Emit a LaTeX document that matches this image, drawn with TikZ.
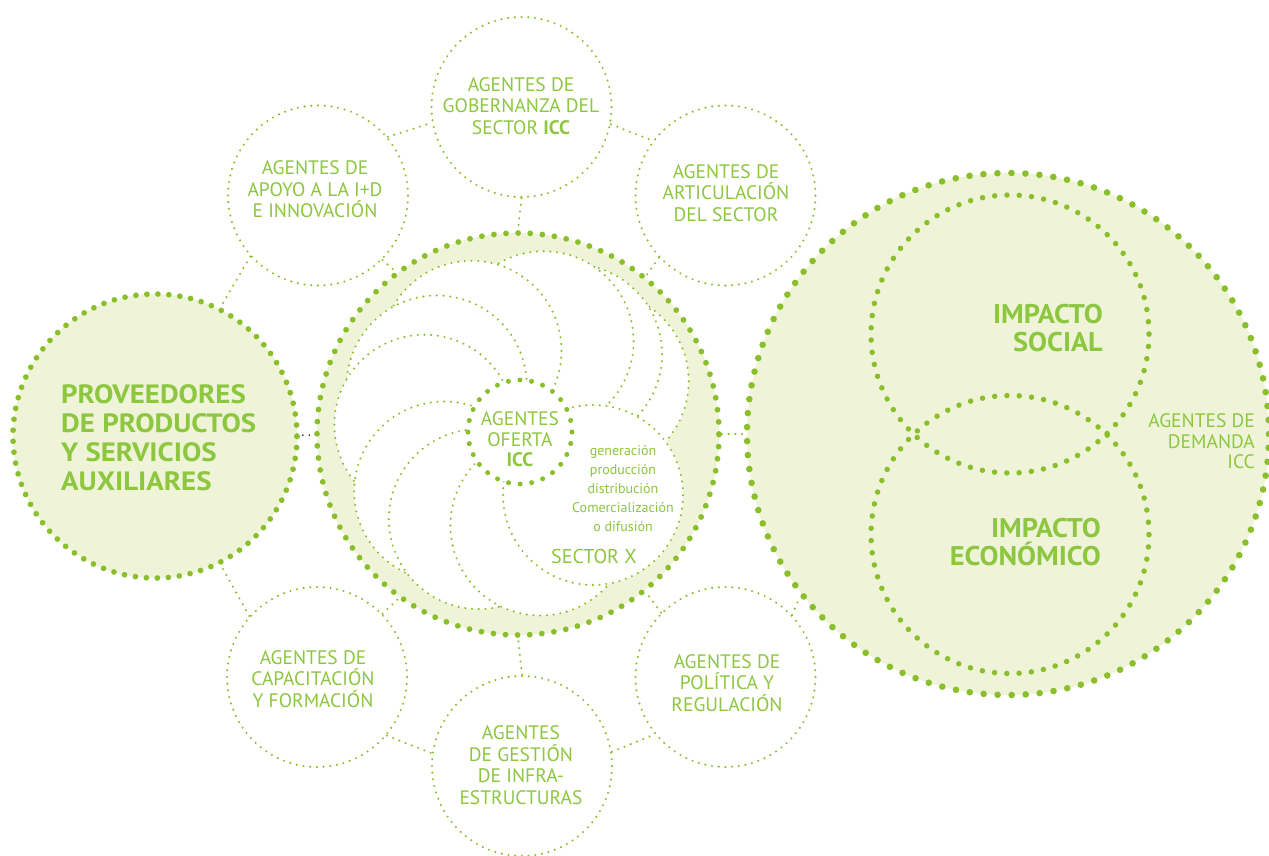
\documentclass[tikz,border=0pt]{standalone}
\usepackage{fontspec}
\setmainfont{PT Sans}
\newfontfamily\wideprov[FakeStretch=1.09]{PT Sans}
\newfontfamily\wideimp[FakeStretch=1.05]{PT Sans}
\usetikzlibrary{calc}
\definecolor{dotg}{HTML}{8ABE2A}
\definecolor{txtg}{HTML}{8DC63F}
\definecolor{lightg}{HTML}{EFF4D9}
\begin{document}
\begin{tikzpicture}[x=1pt,y=-1pt,
  thindots/.style={draw=dotg, line width=2.3pt, line cap=round, dash pattern=on 0pt off #1},
  thindots/.default=6.73pt,
  bigdots/.style 2 args={draw=dotg, line width=#1, line cap=round, dash pattern=on 0pt off #2},
  agent/.style={circle, minimum size=180pt, inner sep=0pt, fill=white, thindots},
  agtext/.style={text=txtg, align=center, font=\fontsize{19.5}{21.5}\selectfont, inner sep=0pt},
  bigtext/.style={text=txtg, font=\wideimp\fontsize{27}{28.5}\selectfont\bfseries, inner sep=0pt},
]
\useasboundingbox (0,0) rectangle (1269,856);
\fill[white] (0,0) rectangle (1269,856);

% main circles
\node[circle, minimum size=284pt, inner sep=0pt, fill=lightg, bigdots={5.7pt}{11.01pt}] (prov) at (155,436) {};
\node[circle, minimum size=402pt, inner sep=0pt, fill=lightg, bigdots={5.8pt}{12.14pt}] (ring) at (518,434) {};
\node[circle, minimum size=522pt, inner sep=0pt, fill=lightg, bigdots={6.6pt}{14.02pt}] (big) at (1008,434) {};

% agent circles
\node[agent] (gob) at (521.5,107) {};
\node[agent] (apoyo) at (318,195.5) {};
\node[agent] (artic) at (725.5,195.5) {};
\node[agent] (capac) at (317,677) {};
\node[agent] (gest) at (522,766) {};
\node[agent] (polit) at (725.5,677) {};

% connectors
\draw[thindots] (apoyo.40) -- (gob.190);
\draw[thindots] (gob.-11) -- (artic.143);
\draw[thindots] (capac.-40) -- (gest.172);
\draw[thindots] (gest.9) -- (polit.219);
\draw[thindots] (gob.-90) -- (ring.90);
\draw[thindots] (gest.90) -- (ring.-90);
\draw[thindots] (apoyo.-45) -- (ring.127);
\draw[thindots] (artic.223) -- (ring.51);
\draw[thindots] (capac.44) -- (ring.234);
\draw[thindots] (polit.135) -- (ring.-51);
\draw[thindots] (apoyo.222) -- (prov.63);
\draw[thindots] (capac.138) -- (prov.-63);
\draw[thindots] (polit.43) -- (big.218);
\draw[thindots] (ring) -- (big);
\draw[black, line width=1.8pt, line cap=round, dash pattern=on 0pt off 6.5pt, shorten <=3pt, shorten >=3pt] (prov) -- (ring);

% pinwheel of sectors
\coordinate (ctr) at (519,433);
\foreach \a in {33,56,75,120,150,175,218,245,283}{
  \filldraw[fill=white, thindots] ($(ctr)+(-\a:95)$) circle[radius=90pt];
}
\node[circle, minimum size=180pt, inner sep=0pt, fill=white, thindots] (secx) at (593,495) {};
\node[circle, minimum size=104pt, inner sep=0pt, fill=white, bigdots={5pt}{11.67pt}] (ofe) at (520,432) {};

% impact circles
\node[circle, minimum size=278pt, inner sep=0pt, bigdots={5.5pt}{12.3pt}] (soc) at (1010,334) {};
\node[circle, minimum size=278pt, inner sep=0pt, bigdots={5.5pt}{12.3pt}] (eco) at (1010,534.5) {};

% texts
\node[agtext] (gobt) at (521,106) {AGENTES DE\\GOBERNANZA DEL\\SECTOR \textbf{ICC}};
\node[agtext] (apoyot) at (315,189.5) {AGENTES DE\\APOYO A LA I+D\\E INNOVACIÓN};
\node[agtext] (artict) at (726,193) {AGENTES DE\\ARTICULACIÓN\\DEL SECTOR};
\node[agtext] (capact) at (313,679) {AGENTES DE\\CAPACITACIÓN\\Y FORMACIÓN};
\node[agtext] (gestt) at (521,765) {AGENTES\\DE GESTIÓN\\DE INFRA-\\ESTRUCTURAS};
\node[agtext] (politt) at (727,683) {AGENTES DE\\POLÍTICA Y\\REGULACIÓN};
\node[agtext, font=\fontsize{19.5}{20.5}\selectfont] (ofet) at (520,439.5) {AGENTES\\OFERTA\\\textbf{ICC}};
\node[agtext, font=\fontsize{14}{19}\selectfont] (secxt) at (623,489) {generación\\producción\\distribución\\Comercialización\\o difusión};
\node[agtext, font=\fontsize{20}{22}\selectfont] (secxl) at (594,556) {SECTOR X};
\node[bigtext, align=left, anchor=west, font=\wideprov\fontsize{26.5}{29}\selectfont\bfseries] (provt) at (61,437.5) {PROVEEDORES\\DE PRODUCTOS\\Y SERVICIOS\\AUXILIARES};
\node[bigtext, align=right, anchor=east] (soct) at (1103,328) {IMPACTO\\SOCIAL};
\node[bigtext, align=right, anchor=east] (ecot) at (1101,542) {IMPACTO\\ECONÓMICO};
\node[agtext, align=right, anchor=east, font=\fontsize{19.5}{20.5}\selectfont] (demt) at (1255,441.5) {AGENTES DE\\DEMANDA\\ICC};
\end{tikzpicture}
\end{document}
